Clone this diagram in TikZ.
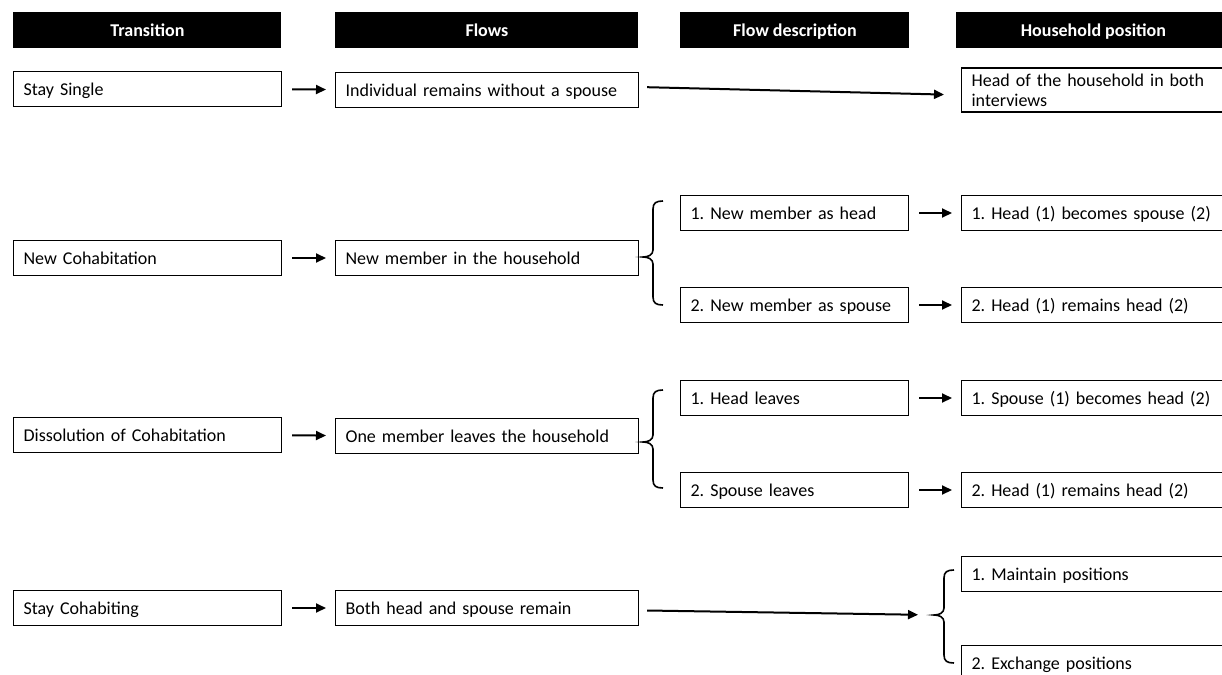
\documentclass[tikz,border=0pt]{standalone}
\usepackage{fontspec}
\setmainfont{Carlito}
\usetikzlibrary{arrows.meta}
\frenchspacing
% brace: x of its ends, top, tip and bottom y
\newcommand{\hhbrace}[4]{%
  \draw[line width=0.8pt] (#1,#2) .. controls (#1-7,#2) and (#1-10,#2+2) .. (#1-10,#2+8)
    -- (#1-10,#3-7) .. controls (#1-10,#3-2) and (#1-15,#3) .. (#1-20,#3)
    .. controls (#1-15,#3) and (#1-10,#3+2) .. (#1-10,#3+7)
    -- (#1-10,#4-8) .. controls (#1-10,#4-2) and (#1-7,#4) .. (#1,#4);}

\begin{document}
\begin{tikzpicture}[
  x=0.5pt, y=-0.5pt,
  >={Triangle[length=5pt,width=4.5pt]},
  every node/.style={font=\fontsize{9}{10}\selectfont},
  header/.style={fill=black,text=white,font=\fontsize{9}{10}\selectfont\bfseries,
    minimum width=#1,minimum height=18pt,inner sep=0pt,anchor=west,
    text height=7.5pt,text depth=1.5pt},
  cell/.style={draw,line width=0.6pt,text width=#1,align=left,inner xsep=5pt,
    inner ysep=1pt,minimum height=17.5pt,anchor=west,
    text height=7.5pt,text depth=1.5pt},
  link/.style={->,line width=1pt,shorten <=5pt,shorten >=4.5pt}
]
  \useasboundingbox (0,0) rectangle (1222,675);
  \clip (0,0) rectangle (1222,675);

  \node[header=134pt] (hTrans) at (13,30) {Transition};
  \node[header=151.5pt] (hFlows) at (335,30) {Flows};
  \node[header=114.5pt] (hDesc) at (680,30) {Flow description};
  \node[header=137pt] (hPos) at (956,30) {Household position};

  \node[cell=124pt] (single) at (13,89) {Stay Single};
  \node[cell=141.5pt] (remains) at (335,90) {Individual remains without a spouse};
  \node[cell=135pt,minimum height=22pt,text height={},text depth={}] (headboth) at (961,90)
    {Head of the household in both\\interviews};

  \node[cell=124pt] (newcohab) at (13,258) {New Cohabitation};
  \node[cell=141.5pt] (newmember) at (335,258) {New member in the household};
  \node[cell=104pt] (ashead) at (680,213) {1. New member as head};
  \node[cell=104pt] (asspouse) at (680,305) {2. New member as spouse};
  \node[cell=135pt] (becspouse) at (961,213) {1. Head (1) becomes spouse (2)};
  \node[cell=135pt] (remhead2) at (961,305) {2. Head (1) remains head (2)};

  \node[cell=124pt] (dissol) at (13,435) {Dissolution of Cohabitation};
  \node[cell=141.5pt] (leaves) at (335,436) {One member leaves the household};
  \node[cell=104pt] (headlv) at (680,398) {1. Head leaves};
  \node[cell=104pt] (spouselv) at (680,490) {2. Spouse leaves};
  \node[cell=135pt] (bechead) at (961,398) {1. Spouse (1) becomes head (2)};
  \node[cell=135pt] (remhead3) at (961,490) {2. Head (1) remains head (2)};

  \node[cell=124pt] (staycohab) at (13,608) {Stay Cohabiting};
  \node[cell=141.5pt] (bothremain) at (335,608) {Both head and spouse remain};
  \node[cell=135pt] (maintain) at (961,574) {1. Maintain positions};
  \node[cell=135pt] (exchange) at (961,663) {2. Exchange positions};
  \coordinate (tipcohab) at (933,615);

  \draw[link] (single) -- (remains);
  \draw[link,shorten <=4pt,shorten >=8.5pt] ([yshift=1.5pt]remains.east) -- ([yshift=-2.5pt]headboth.west);

  \draw[link] (newcohab) -- (newmember);
  \hhbrace{663}{201}{257}{305}
  \draw[link] (ashead) -- (becspouse);
  \draw[link] (asspouse) -- (remhead2);

  \draw[link] (dissol) -- (leaves);
  \hhbrace{663}{390}{442}{488}
  \draw[link] (headlv) -- (bechead);
  \draw[link] (spouselv) -- (remhead3);

  \draw[link] (staycohab) -- (bothremain);
  \draw[link,shorten <=4pt,shorten >=7.5pt] (bothremain) -- (tipcohab);
  \hhbrace{954}{570}{615}{663}
\end{tikzpicture}
\end{document}
